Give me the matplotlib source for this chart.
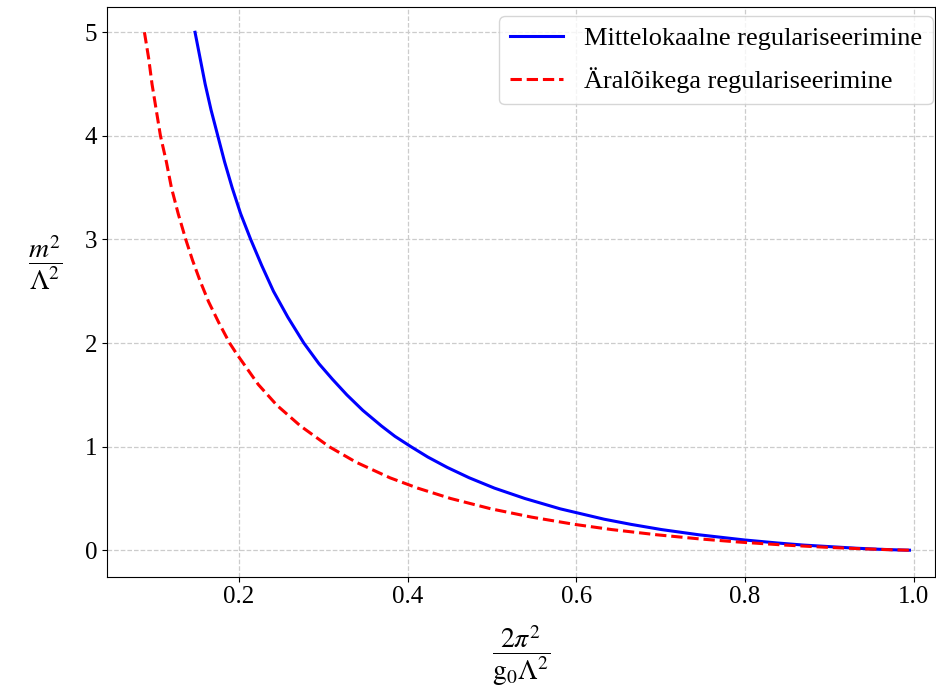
import matplotlib
matplotlib.use("Agg")
import matplotlib.pyplot as plt

plt.rcParams['font.family'] = ['Liberation Serif', 'DejaVu Serif']
plt.rcParams['mathtext.fontset'] = 'stix'

# curves (x = 2 pi^2 / (g0 Lambda^2), y = m^2 / Lambda^2)
x_nonlocal = [0.148, 0.154, 0.160, 0.167, 0.175, 0.183, 0.192, 0.202, 0.214,
              0.227, 0.241, 0.258, 0.277, 0.295, 0.311, 0.328, 0.347, 0.369,
              0.385, 0.404, 0.424, 0.447, 0.473, 0.503, 0.539, 0.581, 0.633,
              0.665, 0.701, 0.745, 0.799, 0.839, 0.870, 0.932, 0.959, 0.976,
              0.989, 0.995]
y_nonlocal = [5.0, 4.75, 4.5, 4.25, 4.0, 3.75, 3.5, 3.25, 3.0,
              2.75, 2.5, 2.25, 2.0, 1.8, 1.65, 1.5, 1.35, 1.2,
              1.1, 1.0, 0.9, 0.8, 0.7, 0.6, 0.5, 0.4, 0.3,
              0.25, 0.2, 0.15, 0.1, 0.07, 0.05, 0.02, 0.01, 0.005,
              0.002, 0.001]

x_cutoff = [0.088, 0.093, 0.097, 0.102, 0.107, 0.114, 0.120, 0.128, 0.137,
            0.145, 0.154, 0.164, 0.176, 0.189, 0.197, 0.223, 0.245, 0.273,
            0.307, 0.339, 0.379, 0.412, 0.451, 0.499, 0.547, 0.598, 0.642,
            0.695, 0.746, 0.792, 0.848, 0.894, 0.937, 0.974, 0.995]
y_cutoff = [5.0, 4.75, 4.5, 4.25, 4.0, 3.75, 3.5, 3.25, 3.0,
            2.8, 2.6, 2.4, 2.2, 2.0, 1.9, 1.6, 1.4, 1.2,
            1.0, 0.85, 0.7, 0.6, 0.5, 0.4, 0.32, 0.25, 0.2,
            0.15, 0.11, 0.08, 0.05, 0.03, 0.015, 0.005, 0.001]

fig = plt.figure(figsize=(9.37, 6.95), dpi=100)
ax = fig.add_axes([0.1139, 0.1702, 0.884, 0.8202])

ax.plot(x_nonlocal, y_nonlocal, color='blue', lw=2.2,
        label='Mittelokaalne regulariseerimine')
ax.plot(x_cutoff, y_cutoff, color='red', lw=2.2, ls='--',
        label='Äralõikega regulariseerimine')

ax.set_xlim(0.0433, 1.0253)
ax.set_ylim(-0.255, 5.247)
ax.set_xticks([0.2, 0.4, 0.6, 0.8, 1.0])
ax.set_yticks([0, 1, 2, 3, 4, 5])
ax.tick_params(labelsize=18)
ax.grid(True, ls='--', color='#cccccc', lw=0.9)

ax.set_xlabel(r'$\dfrac{2\pi^2}{\mathrm{g}_0\Lambda^2}$', fontsize=20, labelpad=11)
ax.set_ylabel(r'$\dfrac{m^2}{\Lambda^2}$', fontsize=20, rotation=0, labelpad=28)

ax.legend(loc='upper right', fontsize=19, borderaxespad=0,
          bbox_to_anchor=(0.997, 0.983), labelspacing=0.65)

fig.savefig('out.png', dpi=100)
